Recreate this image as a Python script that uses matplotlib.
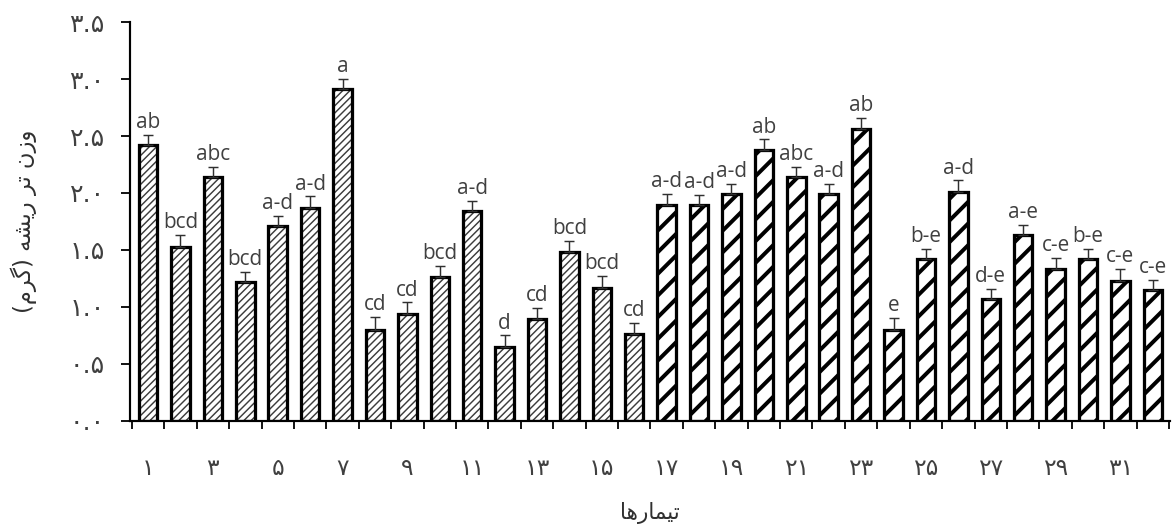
import numpy as np
import matplotlib
matplotlib.use('Agg')
import matplotlib.pyplot as plt
from matplotlib.ticker import FixedLocator

# treatments 1..32, root fresh weight (g), upper error and Duncan groups
treatments = np.arange(1, 33)
weights = [2.42, 1.53, 2.14, 1.22, 1.71, 1.87, 2.91, 0.80,
           0.94, 1.26, 1.84, 0.65, 0.89, 1.48, 1.17, 0.76,
           1.89, 1.89, 1.99, 2.38, 2.14, 1.99, 2.56, 0.80,
           1.42, 2.01, 1.07, 1.63, 1.33, 1.42, 1.23, 1.15]
errors = [0.09, 0.10, 0.09, 0.09, 0.09, 0.10, 0.09, 0.11,
          0.10, 0.10, 0.09, 0.10, 0.10, 0.10, 0.10, 0.10,
          0.10, 0.09, 0.09, 0.09, 0.09, 0.09, 0.10, 0.10,
          0.09, 0.10, 0.09, 0.09, 0.10, 0.09, 0.10, 0.09]
groups = ['ab', 'bcd', 'abc', 'bcd', 'a-d', 'a-d', 'a', 'cd',
          'cd', 'bcd', 'a-d', 'd', 'cd', 'bcd', 'bcd', 'cd',
          'a-d', 'a-d', 'a-d', 'ab', 'abc', 'a-d', 'ab', 'e',
          'b-e', 'a-d', 'd-e', 'a-e', 'c-e', 'b-e', 'c-e', 'c-e']
y_ticks = [0.0, 0.5, 1.0, 1.5, 2.0, 2.5, 3.0, 3.5]
x_label = 'تیمارها'
y_label = 'وزن تر ریشه (گرم)'

# contextual forms: isolated, final, initial, medial
FORMS = {
    'ا': ('\uFE8D', '\uFE8E', None, None),
    'ر': ('\uFEAD', '\uFEAE', None, None),
    'ز': ('\uFEAF', '\uFEB0', None, None),
    'و': ('\uFEED', '\uFEEE', None, None),
    'ت': ('\uFE95', '\uFE96', '\uFE97', '\uFE98'),
    'ش': ('\uFEB5', '\uFEB6', '\uFEB7', '\uFEB8'),
    'م': ('\uFEE1', '\uFEE2', '\uFEE3', '\uFEE4'),
    'ن': ('\uFEE5', '\uFEE6', '\uFEE7', '\uFEE8'),
    'ه': ('\uFEE9', '\uFEEA', '\uFEEB', '\uFEEC'),
    'ی': ('\uFBFC', '\uFBFD', '\uFBFE', '\uFBFF'),
    'گ': ('\uFB92', '\uFB93', '\uFB94', '\uFB95'),
}
RIGHT_ONLY = set('اروز')


def shape(text):
    # join letters and lay the string out left to right for matplotlib
    out = []
    for i, ch in enumerate(text):
        if ch not in FORMS:
            out.append(ch)
            continue
        prev = text[i - 1] if i > 0 else ''
        nxt = text[i + 1] if i + 1 < len(text) else ''
        jp = prev in FORMS and prev not in RIGHT_ONLY
        jn = ch not in RIGHT_ONLY and nxt in FORMS
        iso, fin, ini, med = FORMS[ch]
        if jp and jn:
            out.append(med)
        elif jp:
            out.append(fin)
        elif jn:
            out.append(ini)
        else:
            out.append(iso)
    return ''.join(reversed(out)).translate(str.maketrans('()', ')('))


def fa_digits(s):
    return s.translate(str.maketrans('0123456789', '۰۱۲۳۴۵۶۷۸۹'))


DPI = 130
fig = plt.figure(figsize=(1172 / DPI, 526 / DPI), dpi=DPI)
ax = fig.add_axes([0.111, 0.2, 0.887, 0.758])

w = 0.57
first, second = treatments[:16], treatments[16:]

# fine gray hatch for the first half, bold black hatch for the second
with plt.rc_context({'hatch.linewidth': 0.8}):
    b1 = ax.bar(first, weights[:16], width=w, color='white', edgecolor='#3c3c3c',
                linewidth=0, hatch='//////', zorder=2)
with plt.rc_context({'hatch.linewidth': 2.2}):
    b2 = ax.bar(second, weights[16:], width=w, color='white', edgecolor='black',
                linewidth=0, hatch='//', zorder=2)
for p in b1:
    if hasattr(p, 'set_hatch_linewidth'):
        p.set_hatch_linewidth(0.8)
for p in b2:
    if hasattr(p, 'set_hatch_linewidth'):
        p.set_hatch_linewidth(2.2)

ax.bar(treatments, weights, width=w, color='none', edgecolor='black',
       linewidth=1.8, zorder=3)

ax.errorbar(treatments, weights, yerr=[np.zeros(len(errors)), errors], fmt='none',
            ecolor='#303030', elinewidth=0.8, capsize=2.8, capthick=0.8, zorder=4)

for x, y, e, g in zip(treatments, weights, errors, groups):
    ax.annotate(g, (x, y + e), xytext=(0, 1.0), textcoords='offset points',
                ha='center', va='bottom', fontsize=11.5, color='#404040',
                family=['Open Sans', 'DejaVu Sans'])

ax.set_xlim(0.445, 32.52)
ax.set_ylim(0, 3.5)

ax.set_yticks(y_ticks)
ax.set_yticklabels([fa_digits(f'{v:.1f}') for v in y_ticks])
ax.tick_params(axis='y', length=5, width=1, pad=9, labelsize=14, labelcolor='#404040')

odd = treatments[::2]
ax.set_xticks(odd)
ax.set_xticklabels([fa_digits(str(t)) for t in odd])
ax.xaxis.set_minor_locator(FixedLocator(np.arange(0.5, 33, 1.0)))
ax.tick_params(axis='x', which='major', length=0, pad=20, labelsize=13, labelcolor='#404040')
ax.tick_params(axis='x', which='minor', length=4.5, width=1)

for s in ['top', 'right']:
    ax.spines[s].set_visible(False)
for s in ['left', 'bottom']:
    ax.spines[s].set_linewidth(1.2)

ax.set_xlabel(shape(x_label), fontsize=12, color='#303030', labelpad=12,
              family='DejaVu Sans')
ax.set_ylabel(shape(y_label), fontsize=12.5, color='#303030', labelpad=18,
              family='DejaVu Sans')

fig.savefig('out.png', dpi=DPI)
